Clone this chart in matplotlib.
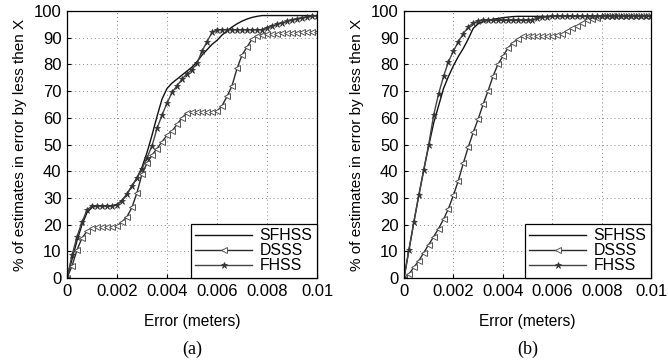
import numpy as np
import matplotlib
matplotlib.use('Agg')
import matplotlib.pyplot as plt

plt.rcParams['font.family'] = ['Liberation Sans', 'DejaVu Sans']

# x axis: error in meters, sampled every 0.0002
err = np.round(np.arange(51) * 0.0002, 5)

# panel (a)
sfhss_a = [0, 7, 14, 20, 24.5, 26.5, 27, 27, 27, 27, 27.5, 29, 31.5, 34.5, 37.5, 41.5,
           47, 53.5, 60.5, 67, 71, 73, 74.5, 76, 77.5, 79, 81, 83.5, 85.5, 87.5, 89,
           91, 92.5, 94, 95.2, 96.2, 97, 97.6, 98, 98.3,
           98.3, 98.3, 98.3, 98.3, 98.3, 98.3, 98.3, 98.3, 98.3, 98.3, 98.3]
dsss_a = [0, 4.5, 10.5, 15, 17.5, 18.8, 19, 19, 19, 19, 19.5, 21, 23, 26.5, 32, 39,
          43, 46, 48.5, 51, 53.5, 55, 57.5, 60, 61.8,
          62, 62, 62, 62, 62, 62.5,
          64.5, 68, 72, 78.5, 83.5, 86.5, 89.5, 90.8, 91.2, 91.3,
          91.4, 91.5, 91.6, 91.7, 91.8, 91.9, 92, 92.1, 92.2, 92.3]
fhss_a = [0, 8.5, 15.5, 21, 25.5, 27, 27, 27, 27, 27, 27.5, 29, 31.5, 34.5, 37.5, 41,
          45, 49.5, 56, 61, 65.5, 69.5, 72, 74.5, 76.5, 78, 80.5, 85, 88.5, 92, 93,
          93, 93, 93, 93, 93, 93, 93, 93, 93,
          93.8, 94.5, 95, 95.6, 96.1, 96.6, 97, 97.4, 97.7, 98, 98.2]

# panel (b)
sfhss_b = [0, 10.5, 21, 31, 40.5, 49.5, 58, 64.5, 71, 75.5, 79.5, 83, 86, 89.5, 93.5,
           95.2, 96, 96.5, 96.9, 97.2, 97.5, 97.7, 97.9, 98] + [98] * 27
dsss_b = [0, 1.5, 4, 6.5, 9.5, 12.5, 15.5, 18.5, 22, 26, 31, 36.5, 43, 49, 54.5, 59.5,
          65, 70, 75.5, 80, 83, 86, 88, 89.5, 90.5,
          90.5, 90.5, 90.5, 90.5, 90.5, 90.5,
          91, 91.5, 92.5, 93.5, 94.5, 95.5, 96.5, 97, 97.5, 98] + [98] * 10
fhss_b = [0, 10.5, 21, 31, 40.5, 50, 61, 69, 75.5, 81, 85, 88.5, 91.5, 94, 95.5, 96.2,
          96.5, 96.5, 96.5, 96.5, 96.5, 96.5, 96.5, 96.5, 96.5, 96.5,
          96.8, 97.2, 97.6, 97.9, 98] + [98] * 20

xticks = [0, 0.002, 0.004, 0.006, 0.008, 0.01]
xticklabels = ['0', '0.002', '0.004', '0.006', '0.008', '0.01']
yticks = list(range(0, 101, 10))
names = ['SFHSS', 'DSSS', 'FHSS']

fig = plt.figure(figsize=(6.68, 3.62), dpi=100)
ax_a = fig.add_axes([0.1003, 0.232, 0.3743, 0.7376])
ax_b = fig.add_axes([0.6048, 0.232, 0.3698, 0.7376])

panels = [(ax_a, sfhss_a, dsss_a, fhss_a, '(a)'),
          (ax_b, sfhss_b, dsss_b, fhss_b, '(b)')]

for ax, s, d, f, tag in panels:
    ax.plot(err, s, color='#111111', lw=1.0, label=names[0])
    ax.plot(err, d, color='#2a2a2a', lw=1.0, marker='<', ms=4.5,
            mfc='white', mec='#555555', mew=0.7, label=names[1])
    ax.plot(err, f, color='#444444', lw=1.0, marker='*', ms=4.5,
            mfc='#333333', mec='#333333', mew=0.5, label=names[2])

    ax.set_xlim(0, 0.01)
    ax.set_ylim(0, 100)
    ax.set_xticks(xticks)
    ax.set_xticklabels(xticklabels)
    ax.set_yticks(yticks)
    ax.tick_params(direction='in', length=3, labelsize=12, pad=4)
    ax.grid(True, color='#888888', linestyle=(0, (1, 3)), linewidth=0.7)
    for sp in ax.spines.values():
        sp.set_linewidth(0.9)
        sp.set_color('black')

    ax.set_xlabel('Error (meters)', fontsize=11.2, labelpad=11)
    ax.set_ylabel('% of estimates in error by less then X', fontsize=11, labelpad=5)

    leg = ax.legend(loc='lower right', borderaxespad=0, fancybox=False,
                    edgecolor='black', framealpha=1, fontsize=11.4,
                    handlelength=3.6, handletextpad=0.45, labelspacing=0.0,
                    borderpad=0.3, numpoints=1)
    leg.get_frame().set_linewidth(0.9)

    ax.text(0.5, -0.235, tag, transform=ax.transAxes, ha='center', va='top',
            fontsize=13, family=['Liberation Serif', 'DejaVu Serif'])

fig.savefig('out.png', dpi=100)
